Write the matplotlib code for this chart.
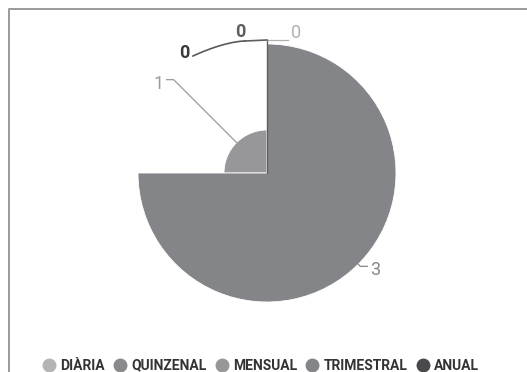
import numpy as np
import matplotlib.pyplot as plt
from matplotlib.patches import Wedge
from matplotlib.lines import Line2D

# frequency categories and their counts
categories = ['DIÀRIA', 'QUINZENAL', 'MENSUAL', 'TRIMESTRAL', 'ANUAL']
counts = [0, 0, 1, 3, 0]
colors = ['#b4b4b4', '#8a8a8c', '#97979a', '#848589', '#4a4a4c']
label_colors = ['#b0b0b0', '#5e5e60', '#9a9a9a', '#858589', '#3a3a3a']

W, H = 527, 372
CX, CY = 267, H - 173
R = 129
FS = 13

plt.rcParams['font.family'] = ['Roboto', 'DejaVu Sans']

fig = plt.figure(figsize=(W / 100, H / 100), dpi=100)
ax = fig.add_axes([0, 0, 1, 1])
ax.set_xlim(0, W)
ax.set_ylim(0, H)
ax.set_aspect('equal')
ax.axis('off')

# card frame
ax.plot([8.5, 8.5, W + 2], [-2, H - 8.5, H - 8.5], color='#9a9a9a', lw=1.4)

total = float(sum(counts))
vmax = float(max(counts))

# rose pie: angle and radius both follow the value, counter-clockwise from 12 o'clock
start = 90.0
mids = []
for v, c in zip(counts, colors):
    span = v / total * 360.0
    r = v / vmax * R
    if v > 0:
        ax.add_patch(Wedge((CX, CY), r, start, start + span, facecolor=c,
                           edgecolor='white', lw=0.6))
    mids.append((start + span / 2.0, r))
    start += span

# value labels with leader lines
def label_nonzero(i, side):
    ang, r = mids[i]
    a = np.radians(ang)
    p0 = (CX + r * np.cos(a), CY + r * np.sin(a))
    p1 = (CX + (R + 3) * np.cos(a), CY + (R + 3) * np.sin(a))
    p2 = (p1[0] + 7 * side, p1[1])
    ax.plot([p0[0], p1[0], p2[0]], [p0[1], p1[1], p2[1]],
            color=label_colors[i], lw=0.9)
    ax.text(p2[0] + 3 * side, p2[1] - 4, str(counts[i]), color=label_colors[i],
            fontsize=FS, ha='left' if side > 0 else 'right', va='center')

label_nonzero(2, -1)
label_nonzero(3, 1)

# zero-valued slices all sit at the top; their labels are spread apart
top = CY + 133
ax.plot([CX, CX], [CY, top], color='#5e5e60', lw=1.0)
# DIÀRIA
ax.plot([CX, CX + 21], [top, top], color=label_colors[0], lw=0.9)
ax.text(CX + 29, top + 7, str(counts[0]), color=label_colors[0], fontsize=FS,
        ha='center', va='center')
# QUINZENAL
ax.plot([CX, CX - 22], [top, top - 1], color=label_colors[1], lw=1.2)
ax.text(CX - 27, top + 8, str(counts[1]), color=label_colors[1], fontsize=FS,
        fontweight='bold', ha='center', va='center')
# ANUAL
t = np.linspace(0, 1, 30)
xs = CX - 22 - 52 * t
ys = top - 1 - 15 * t ** 1.6
ax.plot(xs, ys, color='#5a5a5c', lw=1.2)
ax.text(CX - 83, top - 13, str(counts[4]), color=label_colors[4], fontsize=FS,
        fontweight='bold', ha='center', va='center')

handles = [Line2D([], [], marker='o', ls='', markersize=9, markerfacecolor=c,
                  markeredgecolor=c) for c in colors]
fig.legend(handles, categories, loc='lower center', bbox_to_anchor=(0.497, -0.035),
           ncol=5, frameon=False, handlelength=0.6, handletextpad=0.5,
           columnspacing=0.8, prop={'family': 'Roboto', 'weight': 'bold', 'size': 10},
           labelcolor='#333333')

fig.savefig('out.png', dpi=100)
